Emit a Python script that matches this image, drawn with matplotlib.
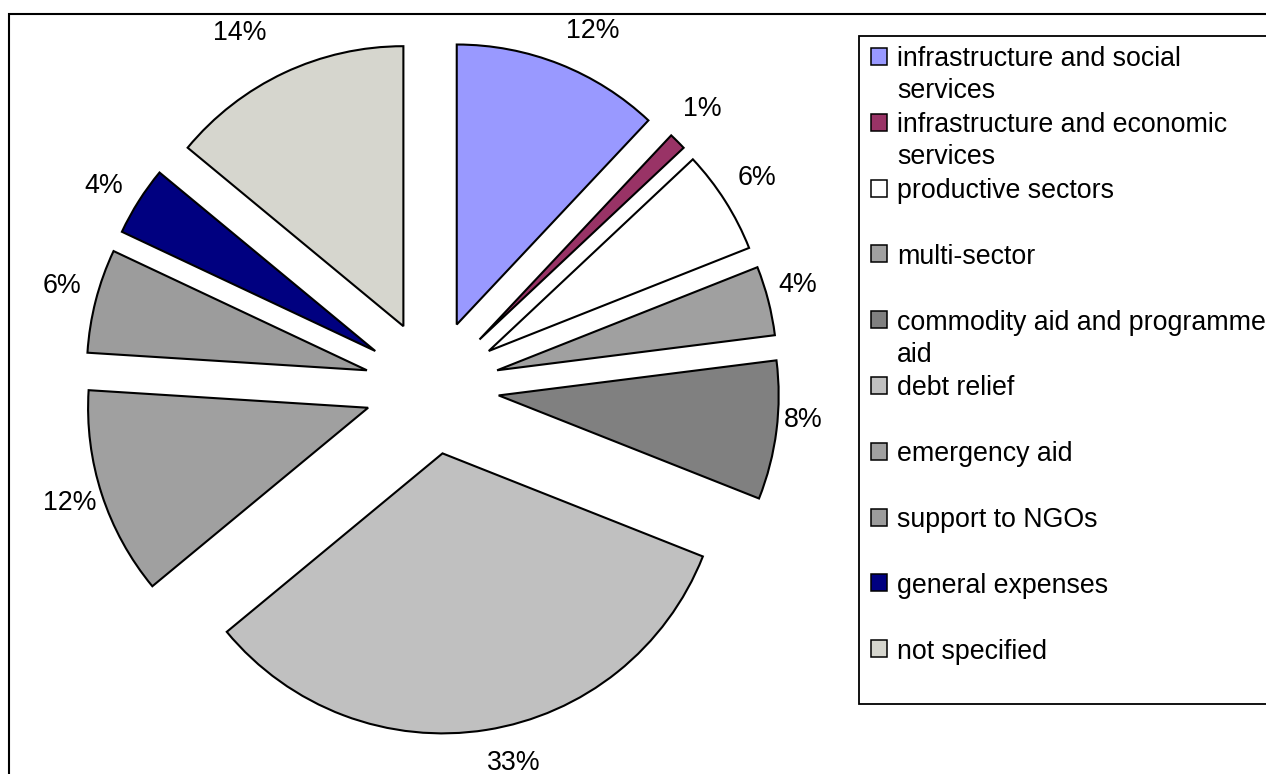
import numpy as np
import matplotlib
matplotlib.use("Agg")
import matplotlib.pyplot as plt
from matplotlib.patches import Rectangle

plt.rcParams['font.family'] = ['Liberation Sans', 'DejaVu Sans']

# ---- data ----
categories = [
    "infrastructure and social\nservices",
    "infrastructure and economic\nservices",
    "productive sectors",
    "multi-sector",
    "commodity aid and programme\naid",
    "debt relief",
    "emergency aid",
    "support to NGOs",
    "general expenses",
    "not specified",
]
shares = [12, 1, 6, 4, 8, 33, 12, 6, 4, 14]
pct_labels = ["12%", "1%", "6%", "4%", "8%", "33%", "12%", "6%", "4%", "14%"]
colors = ["#9999FF", "#993366", "#FFFFFF", "#A0A0A0", "#808080",
          "#C0C0C0", "#A0A0A0", "#9C9C9C", "#000080", "#D6D6CE"]

# ---- layout / style ----
W, H, DPI = 1266, 774, 100
CX, CY, R = 432, 387, 280          # pie centre & radius in pixels
EXPLODE = 0.24
FONT_PT = 19.3
label_angle_shift = [2.7, -0.8, -0.3, -1.2, -2.1, -3.3, 0.2, 0.9, -1.0, -3.3]  # clockwise deg
label_dist = [1.396, 1.386, 1.379, 1.357, 1.332, 1.375, 1.357, 1.371, 1.375, 1.44]

fig = plt.figure(figsize=(W / DPI, H / DPI), dpi=DPI)
ax = fig.add_axes([0, 0, 1, 1])

wedges, _ = ax.pie(shares, colors=colors, startangle=90, counterclock=False,
                   explode=[EXPLODE] * len(shares), radius=1.0,
                   wedgeprops=dict(edgecolor="black", linewidth=1.5))
ax.set_aspect("equal")
ax.set_xlim(-CX / R, (W - CX) / R)
ax.set_ylim(-(H - CY) / R, CY / R)
ax.axis("off")

for w, lab, sh, d in zip(wedges, pct_labels, label_angle_shift, label_dist):
    mid = np.deg2rad((w.theta1 + w.theta2) / 2 - sh)
    ax.text(d * np.cos(mid), d * np.sin(mid), lab, ha="center", va="center",
            fontsize=FONT_PT, color="black")

# ---- outer chart border ----
def fx(px):
    return px / W

def fy(py):
    return 1 - py / H

fig.patches.append(Rectangle((fx(9), fy(800)), fx(1300) - fx(9), fy(14) - fy(800),
                             transform=fig.transFigure, fill=False,
                             edgecolor="black", linewidth=1.5, zorder=0))

# ---- legend (manual) ----
LX, LTOP, LBOT = 859, 36, 704
fig.patches.append(Rectangle((fx(LX), fy(LBOT)), fx(1300) - fx(LX), fy(LTOP) - fy(LBOT),
                             transform=fig.transFigure, facecolor="white",
                             edgecolor="black", linewidth=1.3, zorder=2))
first_c, step = 56.5, 65.8
line_h = 32
for i, (name, col) in enumerate(zip(categories, colors)):
    yc = first_c + i * step
    fig.patches.append(Rectangle((fx(871), fy(yc + 8.5)), fx(16), 17 / H,
                                 transform=fig.transFigure, facecolor=col,
                                 edgecolor="black", linewidth=1.1, zorder=3))
    for k, line in enumerate(name.split("\n")):
        fig.text(fx(897), fy(yc + 10 + k * line_h), line, ha="left", va="baseline",
                 fontsize=FONT_PT, color="black", zorder=4)

fig.savefig("out.png", dpi=DPI)
